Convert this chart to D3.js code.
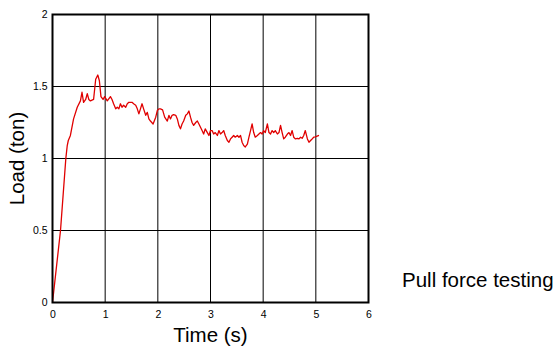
<!DOCTYPE html>
<html>
<head>
<meta charset="utf-8">
<script src="https://cdn.jsdelivr.net/npm/d3@7"></script>
<style>
  html, body { margin: 0; padding: 0; background: #fff; }
  svg { display: block; font-family: "Liberation Sans", Arial, sans-serif; }
</style>
</head>
<body>
<svg id="chart" width="559" height="349"></svg>
<script>
const timeValues = [0, 0.152, 0.253, 0.28, 0.30, 0.34, 0.40, 0.47, 0.53, 0.56, 0.59, 0.63, 0.66, 0.69, 0.72, 0.78, 0.82, 0.86, 0.89, 0.92, 0.96, 0.99,
  1.04, 1.10, 1.13, 1.16, 1.20, 1.23, 1.26, 1.29, 1.32, 1.35, 1.39, 1.42, 1.45, 1.51, 1.54, 1.58, 1.61, 1.64, 1.67, 1.70, 1.73, 1.77, 1.80, 1.83, 1.86, 1.91, 1.96, 1.99,
  2.02, 2.05, 2.09, 2.13, 2.18, 2.21, 2.24, 2.27, 2.30, 2.34, 2.37, 2.40, 2.43, 2.46, 2.49, 2.53, 2.56, 2.59, 2.62, 2.65, 2.68, 2.72, 2.75, 2.78, 2.81, 2.84, 2.87, 2.90, 2.94, 2.97,
  3.00, 3.03, 3.06, 3.09, 3.13, 3.16, 3.19, 3.22, 3.25, 3.28, 3.32, 3.35, 3.38, 3.41, 3.44, 3.47, 3.51, 3.54, 3.57, 3.60, 3.63, 3.66, 3.70, 3.73, 3.76, 3.79, 3.82, 3.85, 3.89, 3.92, 3.95, 3.98,
  4.01, 4.04, 4.08, 4.11, 4.14, 4.17, 4.20, 4.23, 4.27, 4.30, 4.33, 4.36, 4.39, 4.42, 4.46, 4.49, 4.52, 4.55, 4.58, 4.61, 4.65, 4.68, 4.71, 4.74, 4.77, 4.80, 4.84, 4.87, 4.90, 4.93, 4.96, 4.99, 5.06];
const loadValues = [0, 0.50, 1.00, 1.09, 1.125, 1.16, 1.275, 1.356, 1.40, 1.46, 1.39, 1.41, 1.45, 1.41, 1.40, 1.41, 1.55, 1.58, 1.54, 1.43, 1.41, 1.43,
  1.40, 1.43, 1.41, 1.38, 1.345, 1.356, 1.345, 1.38, 1.356, 1.37, 1.356, 1.38, 1.39, 1.39, 1.38, 1.37, 1.345, 1.31, 1.345, 1.38, 1.345, 1.30, 1.32, 1.275, 1.26, 1.24, 1.287, 1.333,
  1.345, 1.345, 1.338, 1.287, 1.26, 1.30, 1.275, 1.30, 1.305, 1.30, 1.275, 1.23, 1.206, 1.24, 1.26, 1.30, 1.31, 1.33, 1.287, 1.25, 1.23, 1.25, 1.26, 1.24, 1.217, 1.194, 1.17, 1.206, 1.18, 1.16,
  1.194, 1.194, 1.17, 1.18, 1.16, 1.194, 1.17, 1.18, 1.194, 1.16, 1.125, 1.113, 1.136, 1.148, 1.16, 1.148, 1.16, 1.148, 1.16, 1.113, 1.09, 1.08, 1.10, 1.148, 1.194, 1.24, 1.18, 1.148, 1.16, 1.17, 1.18, 1.17,
  1.194, 1.18, 1.24, 1.18, 1.17, 1.194, 1.18, 1.194, 1.17, 1.18, 1.23, 1.18, 1.136, 1.148, 1.17, 1.18, 1.16, 1.194, 1.148, 1.136, 1.14, 1.136, 1.148, 1.14, 1.16, 1.194, 1.136, 1.113, 1.125, 1.136, 1.148, 1.15, 1.16];
const xTicks = [0, 1, 2, 3, 4, 5, 6];
const yTicks = [0, 0.5, 1, 1.5, 2];
const yTickLabels = ["0", "0.5", "1", "1.5", "2"];
const xLabel = "Time (s)";
const yLabel = "Load (ton)";
const caption = "Pull force testing";

const svg = d3.select("#chart");
const x = d3.scaleLinear().domain([0, 6]).range([52.5, 368.5]);
const y = d3.scaleLinear().domain([0, 2]).range([302.5, 14.5]);

// grid
const grid = svg.append("g");
grid.selectAll("line.vx").data(xTicks.slice(1, -1)).enter().append("line")
  .attr("x1", d => x(d)).attr("x2", d => x(d))
  .attr("y1", y(0)).attr("y2", y(2))
  .attr("stroke", "#000").attr("stroke-width", 1);
grid.selectAll("line.hy").data(yTicks.slice(1, -1)).enter().append("line")
  .attr("x1", x(0)).attr("x2", x(6))
  .attr("y1", d => y(d)).attr("y2", d => y(d))
  .attr("stroke", "#000").attr("stroke-width", 1);

// data line
const data = timeValues.map((t, i) => ({ t, v: loadValues[i] }));
svg.append("path").datum(data)
  .attr("d", d3.line().x(d => x(d.t)).y(d => y(d.v)))
  .attr("fill", "none").attr("stroke", "#e00000").attr("stroke-width", 1.3)
  .attr("stroke-linejoin", "round");

// frame
svg.append("rect")
  .attr("x", x(0)).attr("y", y(2))
  .attr("width", x(6) - x(0)).attr("height", y(0) - y(2))
  .attr("fill", "none").attr("stroke", "#000").attr("stroke-width", 2);

// axes (labels only)
const xAxis = svg.append("g").attr("transform", `translate(0,${y(0)})`)
  .call(d3.axisBottom(x).tickValues(xTicks).tickFormat(d3.format("d")).tickSize(0).tickPadding(8));
const yAxis = svg.append("g").attr("transform", `translate(${x(0)},0)`)
  .call(d3.axisLeft(y).tickValues(yTicks).tickFormat((d, i) => yTickLabels[i]).tickSize(0).tickPadding(5));
[xAxis, yAxis].forEach(a => {
  a.select(".domain").remove();
  a.selectAll("text").attr("font-size", 10.5).attr("fill", "#000")
    .attr("font-family", "'Liberation Sans', Arial, sans-serif");
});

svg.append("text").attr("x", (x(0) + x(6)) / 2).attr("y", 342)
  .attr("text-anchor", "middle").attr("font-size", 20.5).text(xLabel);
svg.append("text").attr("transform", `translate(24,${(y(0) + y(2)) / 2}) rotate(-90)`)
  .attr("text-anchor", "middle").attr("font-size", 20.5).text(yLabel);
svg.append("text").attr("x", 402).attr("y", 287)
  .attr("font-size", 20.5).text(caption);
</script>
</body>
</html>
